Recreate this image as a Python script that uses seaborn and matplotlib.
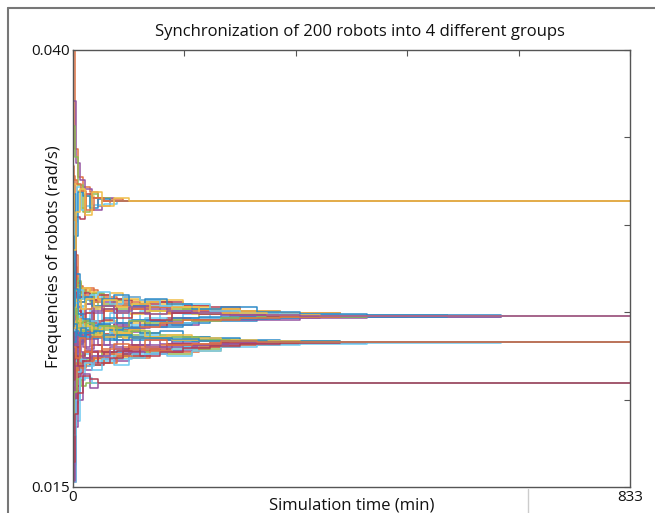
import numpy as np
import pandas as pd
import matplotlib
matplotlib.use("Agg")
import matplotlib.pyplot as plt
from matplotlib.lines import Line2D
from matplotlib.colors import to_rgb
import seaborn as sns

# final frequency of each of the 4 groups, in 1e-4 rad/s
level_a = 313.6
level_b = 247.8
level_c = 233.0
level_d = 209.5

# update instants (min) - robots don't all switch at the same moment
t_grid_1 = [0, 3, 8, 15, 25, 38, 55, 75, 100, 130, 165, 205, 250, 310, 400, 560, 833]
t_grid_2 = [0, 2, 6, 12, 20, 32, 47, 66, 88, 115, 148, 188, 235, 290, 370, 500, 833]
t_grid_3 = [0, 4, 10, 18, 29, 44, 62, 84, 108, 140, 178, 222, 275, 340, 440, 640, 833]

# offsets from the group frequency (1e-4 rad/s)
group_a = [
    [86.4, 30, 14, 8, 5, -3, 1, 0, 0, 0, 0, 0, 0, 0, 0, 0, 0],
    [-20, 10, 6, -4, 3, 2, 0, 0, 0, 0, 0, 0, 0, 0, 0, 0, 0],
    [57, 22, 12, 7, -5, 2, 0, 0, 0, 0, 0, 0, 0, 0, 0, 0, 0],
    [43, 25, 9, -6, 4, 2, 0, 0, 0, 0, 0, 0, 0, 0, 0, 0, 0],
    [-35, -12, 8, -5, -3, -2, -1.5, 0, 0, 0, 0, 0, 0, 0, 0, 0, 0],
    [-50, -9, -10, 4, 2, 0, 0, 0, 0, 0, 0, 0, 0, 0, 0, 0, 0],
    [-60, -20, 5, 3, -4, 1, 0, 0, 0, 0, 0, 0, 0, 0, 0, 0, 0],
    [20, 12, 10, 6, -5, 2, 0, 0, 0, 0, 0, 0, 0, 0, 0, 0, 0],
    [-28, -6, 7, -8, 5, -3, 2, 0, 0, 0, 0, 0, 0, 0, 0, 0, 0],
]
group_b = [
    [30, 18, 14, 15, 10, 12, 8, 9, 6, 7, 4, 3, 2, 1, 0.5, 0.2, 0],
    [-10, -22, -8, -12, -6, -9, -10, -4, -7, -3, -5, -2, -1.5, -1, -0.4, 0, 0],
    [55, 20, 16, 9, 13, 7, 10, 5, 8, 4, 2, 3, 1, 0.5, 0.3, 0, 0],
    [-25, -5, 6, -3, 4, -6, 2, -5, 3, -2, 1, -1, 0.5, -0.5, 0, 0, 0],
    [15, 12, -4, 8, 11, 5, 6, 9, 4, 5, 3, 1, 2, 1, 0.4, 0.2, 0],
    [-40, -15, -12, -9, -11, -7, -8, -6, -3, -5, -2, -3, -1, -0.5, -0.3, 0, 0],
    [80, 35, 17, 12, 15, 10, 7, 8, 9, 5, 6, 4, 2, 1.5, 0.6, 0.2, 0],
    [5, 8, 3, -5, -2, 4, -3, 2, -4, 1, -2, 1, -0.5, 0.3, 0, 0, 0],
    [-55, -18, -14, -10, -7, -10, -5, -7, -6, -4, -3, -2, -2, -1, -0.5, -0.2, 0],
    [40, 22, 10, 14, 8, 6, 9, 6, 5, 3, 4, 2, 1.5, 0.8, 0.3, 0, 0],
    [-5, 10, 12, 6, 9, 11, 4, 7, 2, 6, 3, 2, 1, 0.5, 0.2, 0, 0],
    [20, -10, -6, -11, -4, -2, -6, -3, -5, -1, -2, -1, -0.8, -0.3, 0, 0, 0],
    [-70, -25, -16, -13, -9, -12, -9, -8, -5, -6, -4, -2, -1.5, -0.8, -0.4, 0, 0],
    [65, 28, 19, 13, 16, 9, 11, 7, 6, 8, 5, 3, 2.5, 1.2, 0.5, 0.2, 0],
    [10, 4, 8, 2, 6, 3, 5, 1, 3, 2, 1, 0.5, 0.3, 0, 0, 0, 0],
    [-30, -12, -9, -6, -13, -5, -4, -9, -2, -3, -1, -1.5, -0.5, -0.2, 0, 0, 0],
    [35, 15, 20, 11, 7, 13, 6, 4, 7, 3, 2, 1, 1, 0.4, 0.2, 0, 0],
    [-15, -8, 2, -7, 5, -4, 3, -2, -1, -4, -1, 0.5, -0.3, 0, 0, 0, 0],
    [18, 13, 11, 13, 9, 12, 10, 11, 7, 8, 6, 5, 3, 1.5, 0.6, 0.2, 0],
    [-35, -9, -4, -7, -3, -5, -1, -4, -2, -3, -1, -0.5, -0.3, 0, 0, 0, 0],
    [-85, -30, -10, 4, 8, 3, 6, 4, 5, 2, 3, 1.5, 0.8, 0.4, 0.2, 0, 0],
    [48, 16, 12, 16, 14, 9, 13, 10, 8, 9, 5, 4, 3, 1.5, 0.8, 0.3, 0],
    [0, -4, 5, 1, 7, 2, 8, 3, 6, 4, 2, 2.5, 1.5, 0.5, 0.2, 0, 0],
    [-48, -20, -13, -8, -11, -6, -9, -3, -4, -2, -3, -1, -0.6, -0.3, 0, 0, 0],
    [25, 9, 15, 10, 12, 14, 7, 11, 9, 6, 7, 3, 2, 1, 0.4, 0.1, 0],
    [-62, -12, 3, -4, 2, -3, 4, -1, 2, -2, 1.5, 1, 0.6, 0.3, 0, 0, 0],
    [70, 24, 8, 11, 6, 10, 12, 6, 10, 7, 4, 5, 2.5, 1.2, 0.5, 0.2, 0],
    [-20, -16, -11, -13, -8, -10, -7, -8, -6, -4, -2.5, -2, -1, -0.5, -0.2, 0, 0],
    [12, 6, 9, 4, 10, 5, 9, 5, 7, 3, 5, 2, 1.8, 0.7, 0.3, 0, 0],
    [-95, -40, -15, -9, 3, 6, 2, 5, 1, 3, 2, 0.5, 0.4, 0.2, 0, 0, 0],
]
group_c = [
    [-30, -20, -12, -9, -11, -8, -6, -7, -4, -5, -3, -1, -0.5, -0.2, 0, 0, 0],
    [25, 14, 9, 11, 6, 7, 4, 5, 3, 2, 1, 0.6, 0.3, 0, 0, 0, 0],
    [-60, -28, -15, -13, -10, -12, -9, -8, -6, -4, -5, -2, -1, -0.5, -0.2, 0, 0],
    [5, -6, 4, -3, 6, -2, 3, -4, 2, -1, 1, -0.5, 0.2, 0, 0, 0, 0],
    [45, 18, 12, 8, 10, 5, 7, 3, 4, 2, 1, 0.5, 0.4, 0.2, 0, 0, 0],
    [-15, -10, -13, -7, -8, -11, -5, -6, -7, -3, -2, -2, -0.8, -0.4, -0.2, 0, 0],
    [-80, -35, -18, -14, -12, -9, -10, -7, -5, -6, -4, -3, -1.5, -0.6, -0.3, 0, 0],
    [15, 8, 10, 5, 3, 6, 2, 4, 1, 2, 0.5, 0.3, 0, 0, 0, 0, 0],
    [-45, -16, -9, -12, -6, -7, -8, -4, -5, -2, -3, -1, -0.6, -0.3, 0, 0, 0],
    [35, 20, 7, 10, 8, 4, 6, 2, 3, 1, 2, 0.8, 0.4, 0.2, 0, 0, 0],
    [-5, 3, -5, 2, -4, 3, -2, 1, -2, 1, -0.5, 0.3, 0, 0, 0, 0, 0],
    [-25, -12, -7, -10, -13, -6, -8, -9, -6, -7, -4, -2, -1, -0.4, -0.2, 0, 0],
    [60, 22, 14, 9, 12, 8, 5, 6, 4, 3, 2, 1, 0.5, 0.2, 0, 0, 0],
    [-79, -40, -20, -11, -9, -13, -6, -5, -8, -4, -2, -1.5, -0.7, -0.3, 0, 0, 0],
    [0, 6, 3, 7, 2, 4, 1, 3, 2, 1, 0.5, 0.2, 0, 0, 0, 0, 0],
    [-35, -18, -10, -6, -9, -5, -7, -3, -4, -2, -1, -0.5, -0.3, 0, 0, 0, 0],
    [20, 11, 13, 6, 9, 7, 3, 5, 2, 3, 1, 0.5, 0.2, 0, 0, 0, 0],
    [-70, -30, -14, -16, -8, -10, -11, -6, -7, -5, -3, -2, -1.2, -0.5, -0.2, 0, 0],
    [30, 16, 11, 12, 7, 9, 8, 6, 5, 4, 3, 1.5, 0.6, 0.3, 0, 0, 0],
    [-52, -22, -17, -10, -14, -11, -8, -10, -7, -6, -4, -2.5, -1.5, -0.6, -0.2, 0, 0],
    [-10, -3, -8, -5, -2, -6, -4, -2, -3, -1, -1.5, -0.5, -0.2, 0, 0, 0, 0],
    [75, 30, 16, 13, 9, 10, 7, 8, 5, 6, 3, 2, 1, 0.4, 0.2, 0, 0],
    [-65, -26, -12, -15, -11, -9, -12, -8, -9, -5, -6, -3, -1.5, -0.8, -0.3, 0, 0],
    [8, 12, 6, 9, 4, 8, 5, 7, 3, 4, 2, 1, 0.5, 0.2, 0, 0, 0],
    [-40, -14, -6, -9, -5, -8, -3, -6, -2, -3, -2, -1, -0.4, -0.2, 0, 0, 0],
    [50, 19, 8, 6, 11, 3, 9, 4, 6, 2, 3, 1, 0.6, 0.2, 0, 0, 0],
    [-80, -45, -22, -12, -16, -10, -13, -9, -7, -8, -5, -3, -2, -1, -0.4, -0.1, 0],
    [-22, -8, -14, -11, -6, -12, -9, -5, -8, -6, -3.5, -2.5, -1, -0.5, -0.2, 0, 0],
    [40, 10, 4, 8, 5, 6, 1, 4, 2, 2.5, 1.5, 0.5, 0.3, 0, 0, 0, 0],
    [-3, -9, 2, -6, 3, -4, -1, -3, 1, -2, -1, 0.4, -0.2, 0, 0, 0, 0],
]
group_d = [
    [-56, -25, -10, 5, -3, 0, 0, 0, 0, 0, 0, 0, 0, 0, 0, 0, 0],
    [-20, -5, 2, -2, 0, 0, 0, 0, 0, 0, 0, 0, 0, 0, 0, 0, 0],
    [-30, -10, 3, 3, 0, 0, 0, 0, 0, 0, 0, 0, 0, 0, 0, 0, 0],
    [-45, -18, -6, 4, 2, 0, 0, 0, 0, 0, 0, 0, 0, 0, 0, 0, 0],
]

x_ticks = [0, 166.6, 333.2, 499.8, 666.4, 833]
x_labels = ["0", "", "", "", "", "833"]
y_ticks = [0.015, 0.020, 0.025, 0.030, 0.035, 0.040]
y_labels = ["0.015", "", "", "", "", "0.040"]

# matlab default line colours, a bit washed out like the scanned figure
matlab = ["#0072BD", "#D95319", "#EDB120", "#7E2F8E", "#77AC30", "#4DBEEE", "#A2142F"]
matlab = [tuple(0.82 * c + 0.18 for c in to_rgb(h)) for h in matlab]

grids = [t_grid_1, t_grid_2, t_grid_3]
rows = []
palette = {}
# (name, level, lines, colour shift) - B and C drawn first
for g, level, lines, shift in [("B", level_b, group_b, 2), ("C", level_c, group_c, 0),
                               ("A", level_a, group_a, 1), ("D", level_d, group_d, 3)]:
    for k, offs in enumerate(lines):
        name = g + str(k)
        palette[name] = matlab[(k + shift) % 7]
        for t, o in zip(grids[k % 3], offs):
            rows.append((name, t, (level + o) * 1e-4))
df = pd.DataFrame(rows, columns=["robot", "time", "freq"])

sns.set_style("white")
plt.rcParams["font.family"] = ["Open Sans", "DejaVu Sans"]

fig = plt.figure(figsize=(6.55, 5.13), dpi=100)
ax = fig.add_axes([73 / 655, 1 - 487 / 513, 557 / 655, 437 / 513])
sns.lineplot(data=df, x="time", y="freq", hue="robot", palette=palette,
             estimator=None, drawstyle="steps-post", linewidth=1.1,
             legend=False, ax=ax)

ax.set_xlim(0, 833)
ax.set_ylim(0.015, 0.040)
ax.set_xticks(x_ticks)
ax.set_xticklabels(x_labels)
ax.set_yticks(y_ticks)
ax.set_yticklabels(y_labels)
ax.set_xlabel("")
ax.set_ylabel("")
ax.tick_params(direction="in", top=True, right=True, length=4, width=0.8,
               color="#555555", labelsize=11, pad=2, labelcolor="#111111")
for s in ax.spines.values():
    s.set_color("#555555")
    s.set_linewidth(1.0)

fig.text(360 / 655, 1 - 32 / 513, "Synchronization of 200 robots into 4 different groups",
         ha="center", va="center", fontsize=12, color="#111111")
fig.text(54 / 655, 1 - 257 / 513, "Frequencies of robots (rad/s)", rotation=90,
         ha="center", va="center", fontsize=12, color="#111111")
fig.text(352 / 655, 1 - 505 / 513, "Simulation time (min)",
         ha="center", va="center", fontsize=12, color="#111111")

# outer frame of the original figure (cropped on the right and bottom)
fig.add_artist(Line2D([8 / 655, 8 / 655], [0, 1 - 8 / 513], transform=fig.transFigure,
                      color="#777777", lw=1.5))
fig.add_artist(Line2D([8 / 655, 1], [1 - 8 / 513, 1 - 8 / 513], transform=fig.transFigure,
                      color="#777777", lw=1.5))
fig.add_artist(Line2D([528 / 655, 528 / 655], [0, 1 - 489 / 513], transform=fig.transFigure,
                      color="#cccccc", lw=1.0))

fig.savefig("out.png", dpi=100)
